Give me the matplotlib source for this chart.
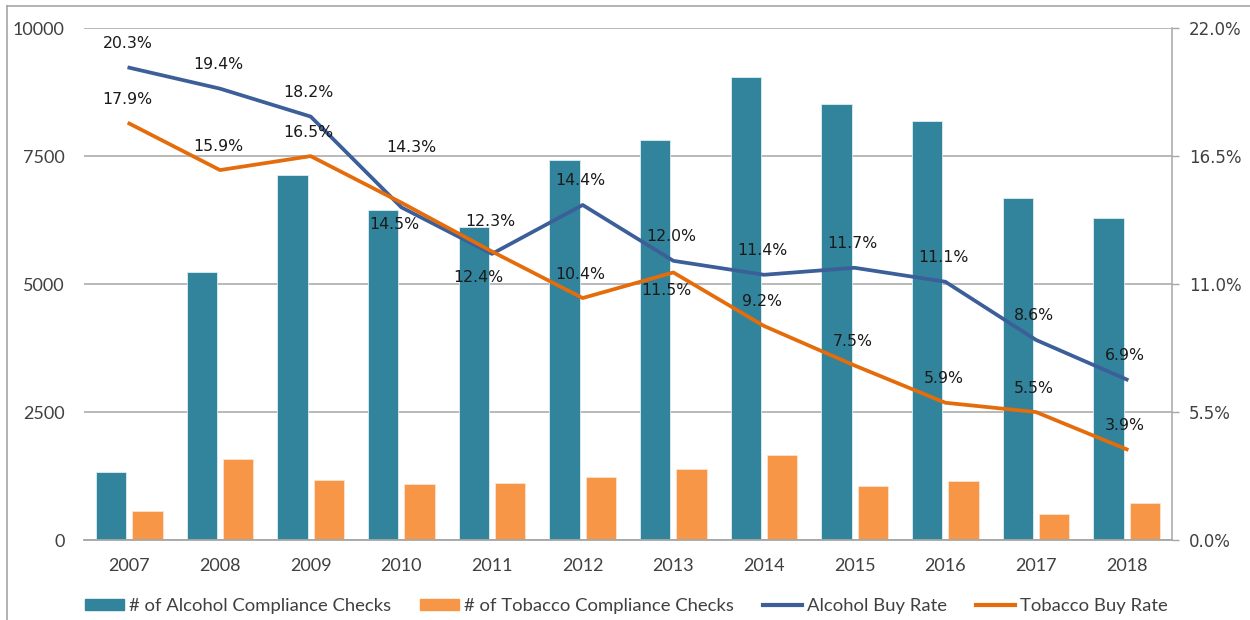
import matplotlib
matplotlib.use("Agg")
import matplotlib.pyplot as plt
import numpy as np
from matplotlib.lines import Line2D
from matplotlib.ticker import FuncFormatter

years = ["2007", "2008", "2009", "2010", "2011", "2012",
         "2013", "2014", "2015", "2016", "2017", "2018"]
alcohol_checks = [1320, 5245, 7135, 6445, 6110, 7430, 7820, 9045, 8515, 8180, 6685, 6295]
tobacco_checks = [570, 1590, 1175, 1090, 1115, 1240, 1390, 1655, 1055, 1145, 515, 725]
alcohol_rate = [20.3, 19.4, 18.2, 14.3, 12.3, 14.4, 12.0, 11.4, 11.7, 11.1, 8.6, 6.9]
tobacco_rate = [17.9, 15.9, 16.5, 14.5, 12.4, 10.4, 11.5, 9.2, 7.5, 5.9, 5.5, 3.9]

# label offsets in pixels (most sit just above the point)
alc_off = [(-2, 24)] * 12
tob_off = [(-2, 24)] * 12
alc_off[3] = (10, 60)
alc_off[4] = (-2, 32)
tob_off[3] = (-7, -22)
tob_off[4] = (-14, -26)
tob_off[6] = (-7, -18)

teal = "#31849B"
orange_bar = "#F79646"
blue_line = "#3C5F99"
orange_line = "#E46C0A"
grid_col = "#A6A6A6"
txt = "#404040"

fig = plt.figure(figsize=(12.5, 6.2), dpi=100)
ax = fig.add_axes([0.0672, 0.129, 0.8704, 0.8256])
ax2 = ax.twinx()

x = np.arange(len(years))
w = 0.337
ax.bar(x - 0.2, alcohol_checks, w, color=teal, edgecolor="#DDEEF2", linewidth=0.6, zorder=2)
ax.bar(x + 0.2, tobacco_checks, w, color=orange_bar, edgecolor="#FDE3CF", linewidth=0.6, zorder=2)

ax.set_ylim(0, 10000)
ax.set_xlim(-0.5, len(years) - 0.5)
ax.set_yticks([0, 2500, 5000, 7500, 10000])
ax.set_xticks(x)
ax.set_xticklabels(years)
ax.yaxis.grid(True, color=grid_col, linewidth=1.1, zorder=0)
ax.set_axisbelow(True)
ax.tick_params(axis="y", length=0, pad=14, labelsize=13, labelcolor=txt)
ax.tick_params(axis="x", length=0, pad=13, labelsize=13, labelcolor=txt)
for lab in ax.get_xticklabels() + ax.get_yticklabels():
    lab.set_fontfamily("Lato")
for s in ["top", "left", "right"]:
    ax.spines[s].set_visible(False)
ax.spines["bottom"].set_color(grid_col)
ax.spines["bottom"].set_linewidth(1.3)

ax2.plot(x, alcohol_rate, color=blue_line, linewidth=2.7, zorder=3)
ax2.plot(x, tobacco_rate, color=orange_line, linewidth=2.7, zorder=3)
ax2.set_ylim(0, 22)
ax2.set_yticks([0, 5.5, 11, 16.5, 22])
ax2.yaxis.set_major_formatter(FuncFormatter(lambda v, p: f"{v:.1f}%"))
ax2.tick_params(axis="y", length=5, width=1, color=grid_col, pad=7,
                labelsize=12, labelcolor=txt)
for s in ["top", "left", "bottom"]:
    ax2.spines[s].set_visible(False)
ax2.spines["right"].set_color(grid_col)
ax2.spines["right"].set_linewidth(1.1)

for i in range(len(years)):
    ax2.annotate(f"{alcohol_rate[i]:.1f}%", (x[i], alcohol_rate[i]), xytext=alc_off[i],
                 textcoords="offset pixels", ha="center", va="center",
                 fontsize=11.3, color="#1a1a1a", zorder=5)
    ax2.annotate(f"{tobacco_rate[i]:.1f}%", (x[i], tobacco_rate[i]), xytext=tob_off[i],
                 textcoords="offset pixels", ha="center", va="center",
                 fontsize=11.3, color="#1a1a1a", zorder=5)

handles = [
    plt.Rectangle((0, 0), 1, 1, color=teal),
    plt.Rectangle((0, 0), 1, 1, color=orange_bar),
    Line2D([], [], color=blue_line, linewidth=3),
    Line2D([], [], color=orange_line, linewidth=3),
]
labels = ["# of Alcohol Compliance Checks", "# of Tobacco Compliance Checks",
          "Alcohol Buy Rate", "Tobacco Buy Rate"]
fig.legend(handles, labels, loc="center", bbox_to_anchor=(0.501, 0.0226), ncol=4,
           frameon=False, prop={"family": "Lato", "size": 13.3}, labelcolor=txt,
           handlelength=2.1, handleheight=0.55, handletextpad=0.25, columnspacing=1.6)

# chart border (left and top edges visible in the crop)
fig.add_artist(Line2D([7 / 1250, 7 / 1250], [0, 1 - 5.7 / 620], transform=fig.transFigure,
                      color="#A6A6A6", linewidth=1.2))
fig.add_artist(Line2D([7 / 1250, 1], [1 - 5.7 / 620, 1 - 5.7 / 620], transform=fig.transFigure,
                      color="#A6A6A6", linewidth=1.2))

fig.savefig("out.png", dpi=100)
